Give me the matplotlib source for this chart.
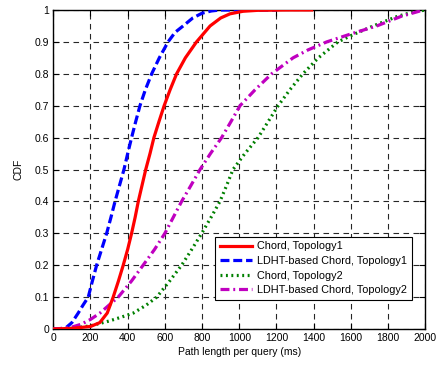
import matplotlib
matplotlib.use("Agg")
import matplotlib.pyplot as plt

plt.rcParams['font.family'] = ['Liberation Sans', 'DejaVu Sans']

# Path length (ms) at which each CDF level is reached
chord_t1_x = [0, 100, 200, 250, 290, 322, 350, 376, 400, 421, 440, 457, 477, 497, 520, 541, 568, 596, 628, 663, 710, 770, 843, 900, 950, 1020, 1100, 1250, 1389]
chord_t1_y = [0, 0.002, 0.008, 0.02, 0.05, 0.1, 0.15, 0.2, 0.25, 0.3, 0.35, 0.4, 0.45, 0.5, 0.55, 0.6, 0.65, 0.7, 0.75, 0.8, 0.85, 0.9, 0.95, 0.975, 0.988, 0.996, 0.999, 1.0, 1.0]

ldht_t1_x = [0, 40, 70, 100, 134, 160, 188, 210, 233, 260, 287, 310, 332, 356, 380, 400, 421, 443, 466, 495, 529, 570, 617, 655, 698, 750, 800, 850, 897, 1200]
ldht_t1_y = [0, 0.001, 0.005, 0.02, 0.05, 0.075, 0.1, 0.15, 0.2, 0.25, 0.3, 0.35, 0.4, 0.45, 0.5, 0.55, 0.6, 0.65, 0.7, 0.75, 0.8, 0.85, 0.9, 0.93, 0.95, 0.975, 0.99, 0.997, 1.0, 1.0]

chord_t2_x = [0, 100, 200, 300, 370, 430, 500, 556, 625, 690, 745, 798, 848, 896, 932, 966, 1030, 1101, 1155, 1209, 1272, 1342, 1425, 1530, 1620, 1720, 1850, 1930, 2000]
chord_t2_y = [0, 0.002, 0.01, 0.025, 0.038, 0.05, 0.075, 0.1, 0.15, 0.2, 0.25, 0.3, 0.35, 0.4, 0.45, 0.5, 0.55, 0.6, 0.65, 0.7, 0.75, 0.8, 0.85, 0.9, 0.925, 0.95, 0.98, 0.993, 1.0]

ldht_t2_x = [0, 50, 100, 150, 200, 251, 300, 349, 420, 483, 545, 600, 645, 690, 740, 789, 845, 905, 955, 1004, 1085, 1174, 1289, 1370, 1470, 1600, 1739, 1870, 1990]
ldht_t2_y = [0, 0.002, 0.006, 0.015, 0.03, 0.05, 0.075, 0.1, 0.15, 0.2, 0.25, 0.3, 0.35, 0.4, 0.45, 0.5, 0.55, 0.6, 0.65, 0.7, 0.75, 0.8, 0.85, 0.875, 0.9, 0.925, 0.95, 0.98, 1.0]

labels = ["Chord, Topology1", "LDHT-based Chord, Topology1",
          "Chord, Topology2", "LDHT-based Chord, Topology2"]
x_ticks = list(range(0, 2001, 200))
y_ticks = [0, 0.1, 0.2, 0.3, 0.4, 0.5, 0.6, 0.7, 0.8, 0.9, 1]
y_tick_labels = ["0", "0.1", "0.2", "0.3", "0.4", "0.5", "0.6", "0.7", "0.8", "0.9", "1"]

fig = plt.figure(figsize=(4.4, 3.65), dpi=100)
ax = fig.add_axes([0.1211, 0.0986, 0.8455, 0.874])

lw = 2.3
ax.plot(chord_t1_x, chord_t1_y, color='#ff0000', lw=lw, ls='-', label=labels[0], zorder=4)
ax.plot(ldht_t1_x, ldht_t1_y, color='#0000ff', lw=lw, dashes=(2.8, 1.2), label=labels[1], zorder=3)
ax.plot(chord_t2_x, chord_t2_y, color='#008000', lw=lw, dashes=(0.6, 1.1), label=labels[2], zorder=3)
ax.plot(ldht_t2_x, ldht_t2_y, color='#c000c0', lw=lw, dashes=(2.8, 1.2, 0.6, 1.2), label=labels[3], zorder=3)

ax.set_xlim(0, 2000)
ax.set_ylim(0, 1)
ax.set_xticks(x_ticks)
ax.set_yticks(y_ticks)
ax.set_yticklabels(y_tick_labels)
ax.tick_params(direction='in', length=4, width=0.8, labelsize=7.5, top=True, right=True, pad=3)
ax.grid(True, color='0.15', ls=(0, (5, 4)), lw=0.8)
for s in ax.spines.values():
    s.set_linewidth(1.0)

ax.set_xlabel("Path length per query (ms)", fontsize=7.5, labelpad=3)
ax.set_ylabel("CDF", fontsize=7.5, labelpad=8)

leg = ax.legend(loc='lower left', bbox_to_anchor=(0.435, 0.091), fontsize=7.8,
                frameon=True, fancybox=False, handlelength=3.0, handletextpad=0.4,
                labelspacing=0.42, borderpad=0.45, borderaxespad=0)
leg.get_frame().set_edgecolor('black')
leg.get_frame().set_linewidth(0.8)
leg.get_frame().set_alpha(1)

fig.savefig("out.png", dpi=100)
